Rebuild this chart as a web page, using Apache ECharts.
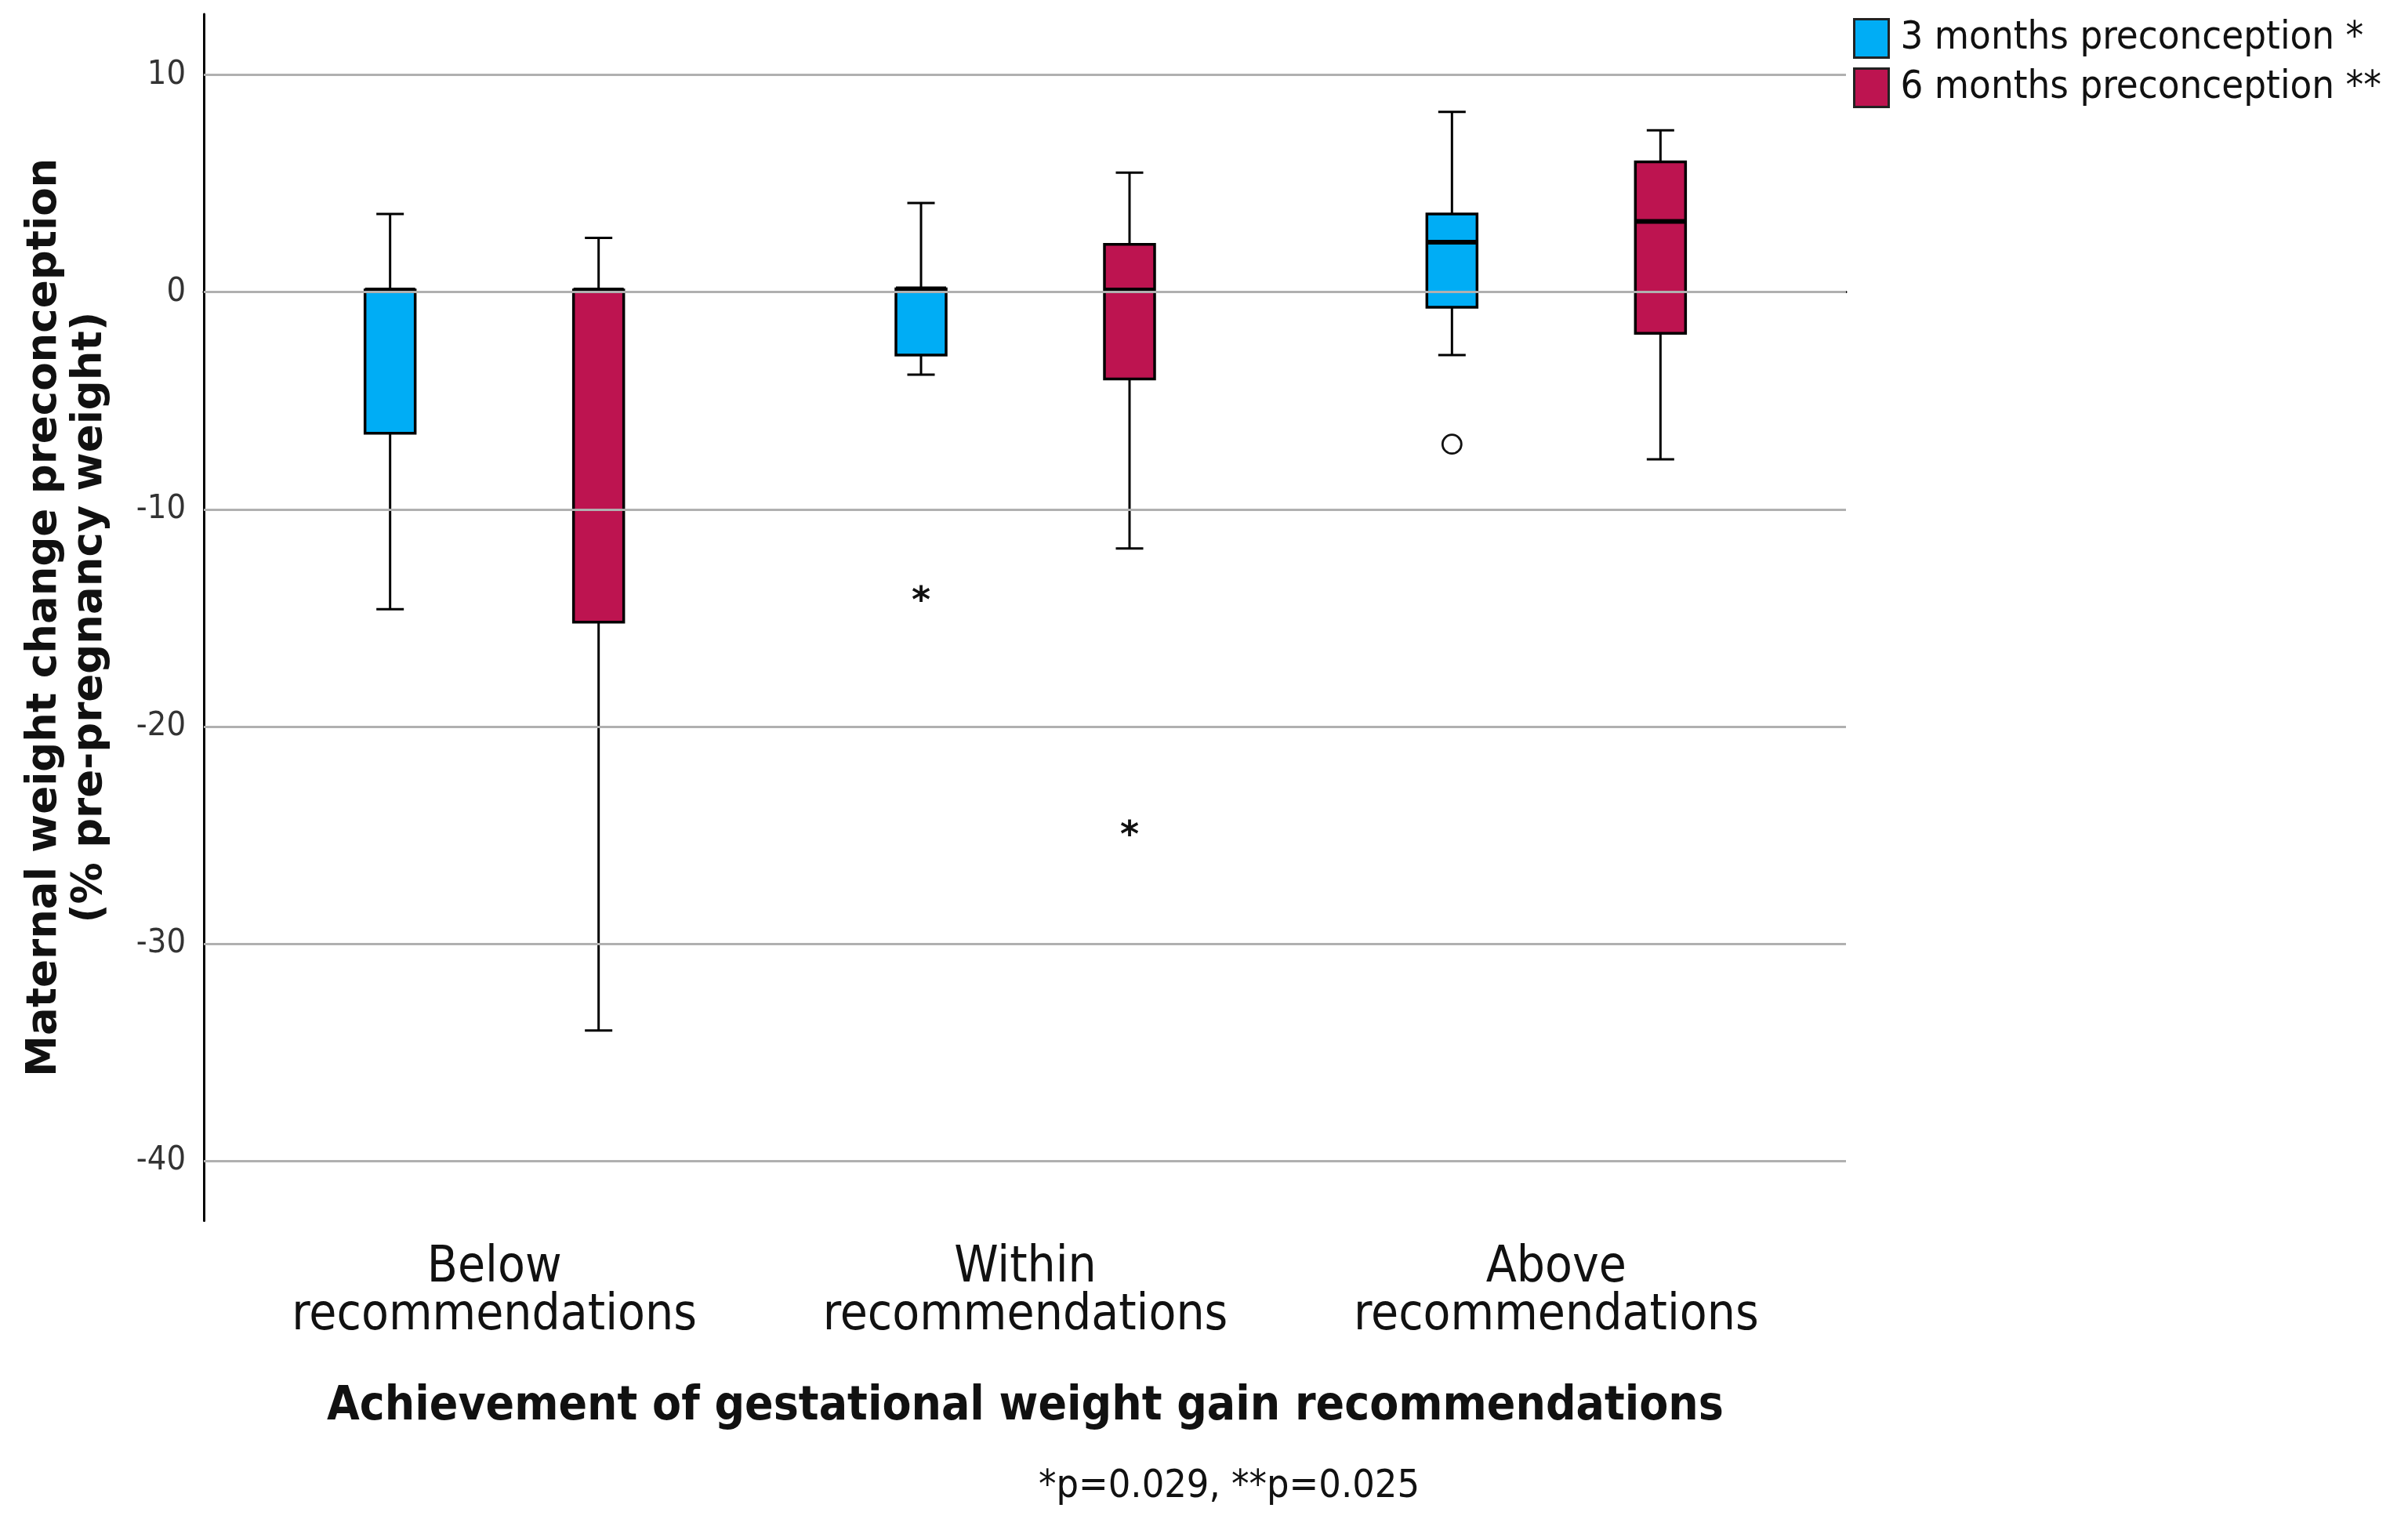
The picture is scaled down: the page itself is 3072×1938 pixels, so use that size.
<!DOCTYPE html>
<html>
<head>
<meta charset="utf-8">
<script src="https://cdn.jsdelivr.net/npm/echarts@6/dist/echarts.min.js"></script>
<style>
  html, body { margin: 0; background: #fff; }
  #chart { width: 3072px; height: 1938px; }
</style>
</head>
<body>
<div id="chart"></div>
<script>
// 分组名称
const categories = ['Below\nrecommendations', 'Within\nrecommendations', 'Above\nrecommendations'];
const seriesNames = ['3 months preconception *', '6 months preconception **'];

// 每组数据: [min, Q1, median, Q3, max]
const months3 = [
    [-14.6, -6.5, 0.1, 0.1, 3.6],
    [-3.8, -2.9, 0.15, 0.15, 4.1],
    [-2.9, -0.7, 2.3, 3.6, 8.3]
];
const months6 = [
    [-34.0, -15.2, 0.1, 0.1, 2.5],
    [-11.8, -4.0, 0.1, 2.2, 5.5],
    [-7.7, -1.9, 3.25, 6.0, 7.45]
];

// 离群值 (o = outlier, * = extreme)
const outliers3Cat = [1, 2];
const outliers3Val = [-13.9, -7.0];
const outliers3Mark = ['*', 'o'];
const outliers6Cat = [1];
const outliers6Val = [-24.7];
const outliers6Mark = ['*'];

const yTicks = [-40, -30, -20, -10, 0, 10];
const yMin = -42.76, yMax = 12.8;

const colors = ['#00adf5', '#bd1450'];
const condensed = '"DejaVu Sans Condensed", "DejaVu Sans", sans-serif';

// 箱体宽度, 须线端宽度, 两组之间的偏移 (px)
const BOX_W = 64, CAP_W = 35, SHIFT = 133;

function boxRenderer(shift, color) {
    return function (params, api) {
        const cat = api.value(0);
        const lo = api.coord([cat, api.value(1)]);
        const q1 = api.coord([cat, api.value(2)]);
        const md = api.coord([cat, api.value(3)]);
        const q3 = api.coord([cat, api.value(4)]);
        const hi = api.coord([cat, api.value(5)]);
        const x = lo[0] + shift;
        const hw = BOX_W / 2, cw = CAP_W / 2;
        const whisker = { stroke: '#000', lineWidth: 3 };
        return {
            type: 'group',
            children: [
                { type: 'line', shape: { x1: x, y1: hi[1], x2: x, y2: q3[1] }, style: whisker },
                { type: 'line', shape: { x1: x, y1: q1[1], x2: x, y2: lo[1] }, style: whisker },
                { type: 'line', shape: { x1: x - cw, y1: hi[1], x2: x + cw, y2: hi[1] }, style: whisker },
                { type: 'line', shape: { x1: x - cw, y1: lo[1], x2: x + cw, y2: lo[1] }, style: whisker },
                { type: 'rect', shape: { x: x - hw, y: q3[1], width: BOX_W, height: q1[1] - q3[1] },
                  style: { fill: color, stroke: '#000', lineWidth: 3.5 } },
                { type: 'line', shape: { x1: x - hw, y1: md[1], x2: x + hw, y2: md[1] },
                  style: { stroke: '#000', lineWidth: 6 } }
            ]
        };
    };
}

function outlierRenderer(shift, marks) {
    return function (params, api) {
        const p = api.coord([api.value(0), api.value(1)]);
        const x = p[0] + shift;
        if (marks[params.dataIndex] === 'o') {
            return { type: 'circle', shape: { cx: x, cy: p[1], r: 12 },
                     style: { fill: 'none', stroke: '#111', lineWidth: 2.8 } };
        }
        return { type: 'text', x: x, y: p[1] + 11,
                 style: { text: '*', fontSize: 46, fontWeight: 'bold', fontFamily: 'DejaVu Sans', fill: '#111',
                          align: 'center', verticalAlign: 'middle' } };
    };
}

const chart = echarts.init(document.getElementById('chart'));
chart.setOption({
    animation: false,
    backgroundColor: '#fff',
    grid: [
        { left: 260, top: 18, width: 2095, height: 1539.5 },
        { left: 292, top: 18, width: 2032, height: 1539.5 }
    ],
    legend: {
        orient: 'vertical',
        left: 2364,
        top: 23,
        padding: 0,
        itemWidth: 44,
        itemHeight: 49,
        itemGap: 11,
        icon: 'rect',
        textStyle: { fontSize: 50.5, fontFamily: condensed, color: '#111', padding: [22, 0, 0, 10] },
        data: [
            { name: seriesNames[0], itemStyle: { color: colors[0], borderColor: '#222', borderWidth: 3 } },
            { name: seriesNames[1], itemStyle: { color: colors[1], borderColor: '#222', borderWidth: 3 } }
        ]
    },
    xAxis: [
        {
            gridIndex: 0, type: 'value', min: 0, max: 1,
            axisLine: { show: true, lineStyle: { color: '#000', width: 3 } },
            axisTick: { show: false }, axisLabel: { show: false }, splitLine: { show: false }
        },
        {
            gridIndex: 1, type: 'category', data: categories,
            axisLine: { show: false }, axisTick: { show: false }, splitLine: { show: false },
            axisLabel: { interval: 0, fontSize: 63.5, lineHeight: 61, fontFamily: condensed, color: '#111', margin: 30 },
            name: 'Achievement of gestational weight gain recommendations',
            nameLocation: 'middle',
            nameGap: 208,
            nameTextStyle: { fontSize: 60, fontWeight: 'bold', fontFamily: condensed, color: '#111' }
        }
    ],
    yAxis: [
        {
            gridIndex: 0, type: 'value', min: yMin, max: yMax,
            axisLine: { show: true, lineStyle: { color: '#000', width: 3 } },
            axisTick: { show: false },
            splitLine: { show: false },
            axisLabel: { fontSize: 43, fontFamily: condensed, color: '#333', margin: 23,
                         showMinLabel: false, showMaxLabel: false },
            name: 'Maternal weight change preconception\n(% pre-pregnancy weight)',
            nameLocation: 'middle',
            nameGap: 116,
            nameTextStyle: { fontSize: 53, fontWeight: 'bold', fontFamily: 'DejaVu Sans', color: '#111', lineHeight: 58 }
        },
        { gridIndex: 1, type: 'value', min: yMin, max: yMax, show: false }
    ],
    graphic: [{
        type: 'text', x: 1568, y: 1897,
        style: { text: '*p=0.029, **p=0.025', fontSize: 50, fontFamily: condensed, fill: '#111',
                 align: 'center', verticalAlign: 'middle' }
    }],
    series: [
        {
            // 网格线
            type: 'line', xAxisIndex: 0, yAxisIndex: 0, data: [], z: 1, silent: true,
            markLine: {
                silent: true, symbol: ['none', 'none'], label: { show: false },
                lineStyle: { color: '#b0b0b0', width: 3, type: 'solid' },
                emphasis: { disabled: true },
                data: yTicks.map(v => ({ yAxis: v }))
            }
        },
        {
            name: seriesNames[0], type: 'custom', xAxisIndex: 1, yAxisIndex: 1, z: 3,
            itemStyle: { color: colors[0] },
            renderItem: boxRenderer(-SHIFT, colors[0]),
            encode: { x: 0, y: [1, 2, 3, 4, 5] },
            data: months3.map((r, i) => [i].concat(r))
        },
        {
            name: seriesNames[1], type: 'custom', xAxisIndex: 1, yAxisIndex: 1, z: 3,
            itemStyle: { color: colors[1] },
            renderItem: boxRenderer(SHIFT, colors[1]),
            encode: { x: 0, y: [1, 2, 3, 4, 5] },
            data: months6.map((r, i) => [i].concat(r))
        },
        {
            type: 'custom', xAxisIndex: 1, yAxisIndex: 1, z: 3,
            renderItem: outlierRenderer(-SHIFT, outliers3Mark),
            encode: { x: 0, y: 1 },
            data: outliers3Cat.map((c, i) => [c, outliers3Val[i]])
        },
        {
            type: 'custom', xAxisIndex: 1, yAxisIndex: 1, z: 3,
            renderItem: outlierRenderer(SHIFT, outliers6Mark),
            encode: { x: 0, y: 1 },
            data: outliers6Cat.map((c, i) => [c, outliers6Val[i]])
        }
    ]
});
</script>
</body>
</html>
